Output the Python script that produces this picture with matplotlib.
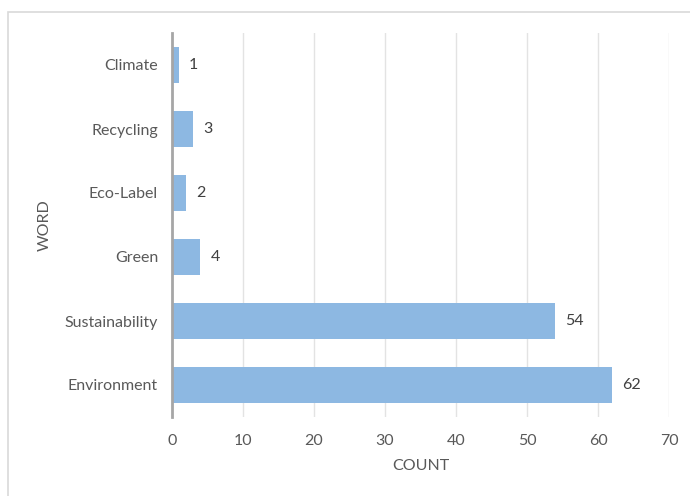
import matplotlib.pyplot as plt
from matplotlib.patches import Rectangle

words = ["Environment", "Sustainability", "Green", "Eco-Label", "Recycling", "Climate"]
counts = [62, 54, 4, 2, 3, 1]
xticks = [0, 10, 20, 30, 40, 50, 60, 70]

plt.rcParams["font.family"] = ["Lato", "DejaVu Sans"]
txt = "#595959"
fs = 11.5

fig = plt.figure(figsize=(6.9, 4.96), dpi=100)
# chart area border: only top and left edges fall inside the image
fig.patches.append(Rectangle((7.5 / 690, -0.1), 1.2, 1 - 11.5 / 496 + 0.1,
                             transform=fig.transFigure, fill=False,
                             edgecolor="#d9d9d9", linewidth=1.2))

ax = fig.add_axes([172 / 690, 1 - 417 / 496, 497 / 690, 384 / 496])
ypos = range(len(words))
ax.barh(ypos, counts, height=0.55, color="#8db8e2", zorder=2)
for y, c in zip(ypos, counts):
    ax.text(c + 1.4, y, str(c), va="center", ha="left", fontsize=fs, color="#404040")

ax.set_xlim(0, 70)
ax.set_ylim(-0.5, 5.5)
ax.set_xticks(xticks)
ax.set_yticks(list(ypos))
ax.set_yticklabels(words)
ax.tick_params(length=0, labelsize=fs, colors=txt)
ax.tick_params(axis="x", pad=12)
ax.tick_params(axis="y", pad=10)
ax.grid(axis="x", color="#e3e3e3", linewidth=1, zorder=0)
for s in ["top", "right", "bottom"]:
    ax.spines[s].set_visible(False)
ax.spines["left"].set_color("#a6a6a6")
ax.spines["left"].set_linewidth(2)
ax.spines["left"].set_zorder(3)

ax.set_xlabel("COUNT", fontsize=fs, color=txt, labelpad=8)
ax.set_ylabel("WORD", fontsize=fs, color=txt, labelpad=9)

fig.savefig("out.png", dpi=100)
